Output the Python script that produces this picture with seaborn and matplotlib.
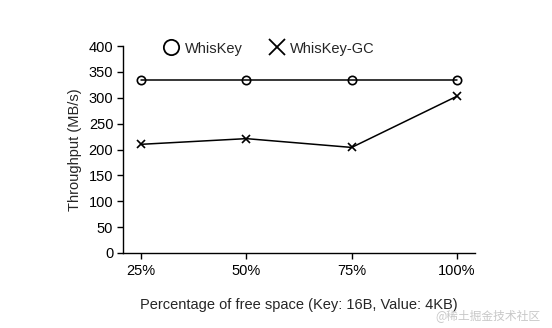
import matplotlib
matplotlib.use("Agg")
import matplotlib.pyplot as plt
from matplotlib.lines import Line2D
import seaborn as sns
import pandas as pd

categories = ["25%", "50%", "75%", "100%"]
whiskey = [334, 334, 334, 334]
whiskey_gc = [210, 221, 204, 303]
yticks = [0, 50, 100, 150, 200, 250, 300, 350, 400]

sns.set_style("ticks")
plt.rcParams["font.family"] = ["Liberation Sans", "DejaVu Sans"]

df = pd.DataFrame({
    "x": list(range(len(categories))) * 2,
    "y": whiskey + whiskey_gc,
    "series": ["WhisKey"] * 4 + ["WhisKey-GC"] * 4,
})

fig = plt.figure(figsize=(5.52, 3.28), dpi=100)
ax = fig.add_axes([123 / 552, 1 - 253 / 328, (475 - 123) / 552, (253 - 46) / 328])

sns.lineplot(data=df[df.series == "WhisKey"], x="x", y="y", ax=ax, color="black",
             marker="o", markersize=6, markerfacecolor="none", markeredgecolor="black",
             markeredgewidth=1.2, linewidth=1.1, legend=False)
sns.lineplot(data=df[df.series == "WhisKey-GC"], x="x", y="y", ax=ax, color="black",
             marker="x", markersize=6, markeredgecolor="black",
             markeredgewidth=1.2, linewidth=1.1, legend=False)

ax.set_xlim(-0.171, 3.171)
ax.set_ylim(0, 400)
ax.set_xticks(range(len(categories)))
ax.set_xticklabels(categories)
ax.set_yticks(yticks)
ax.tick_params(labelsize=10.5, length=4, width=1, colors="black")
ax.tick_params(axis="x", pad=4)
ax.tick_params(axis="y", pad=3)
for s in ["top", "right"]:
    ax.spines[s].set_visible(False)
for s in ["left", "bottom"]:
    ax.spines[s].set_color("black")
    ax.spines[s].set_linewidth(1)
ax.set_xlabel("Percentage of free space (Key: 16B, Value: 4KB)", fontsize=10.5, labelpad=14)
ax.set_ylabel("Throughput (MB/s)", fontsize=10.5, labelpad=5)

handles = [
    Line2D([], [], linestyle="none", marker="o", markersize=11, markerfacecolor="none",
           markeredgecolor="black", markeredgewidth=1.3),
    Line2D([], [], linestyle="none", marker="x", markersize=11, markeredgecolor="black",
           markeredgewidth=1.3),
]
ax.legend(handles, ["WhisKey", "WhisKey-GC"], ncol=2, frameon=False, fontsize=10.5,
          loc="upper left", bbox_to_anchor=(0.075, 1.085), handletextpad=0.35, columnspacing=1.7,
          handlelength=1.2)

fig.text(541 / 552, 1 - 316 / 328, "@稀土掘金技术社区", ha="right", va="center", fontsize=8.5,
         color="#c8c8c8", family=["Noto Sans CJK SC", "DejaVu Sans"])

fig.savefig("out.png", dpi=100, facecolor="white")
